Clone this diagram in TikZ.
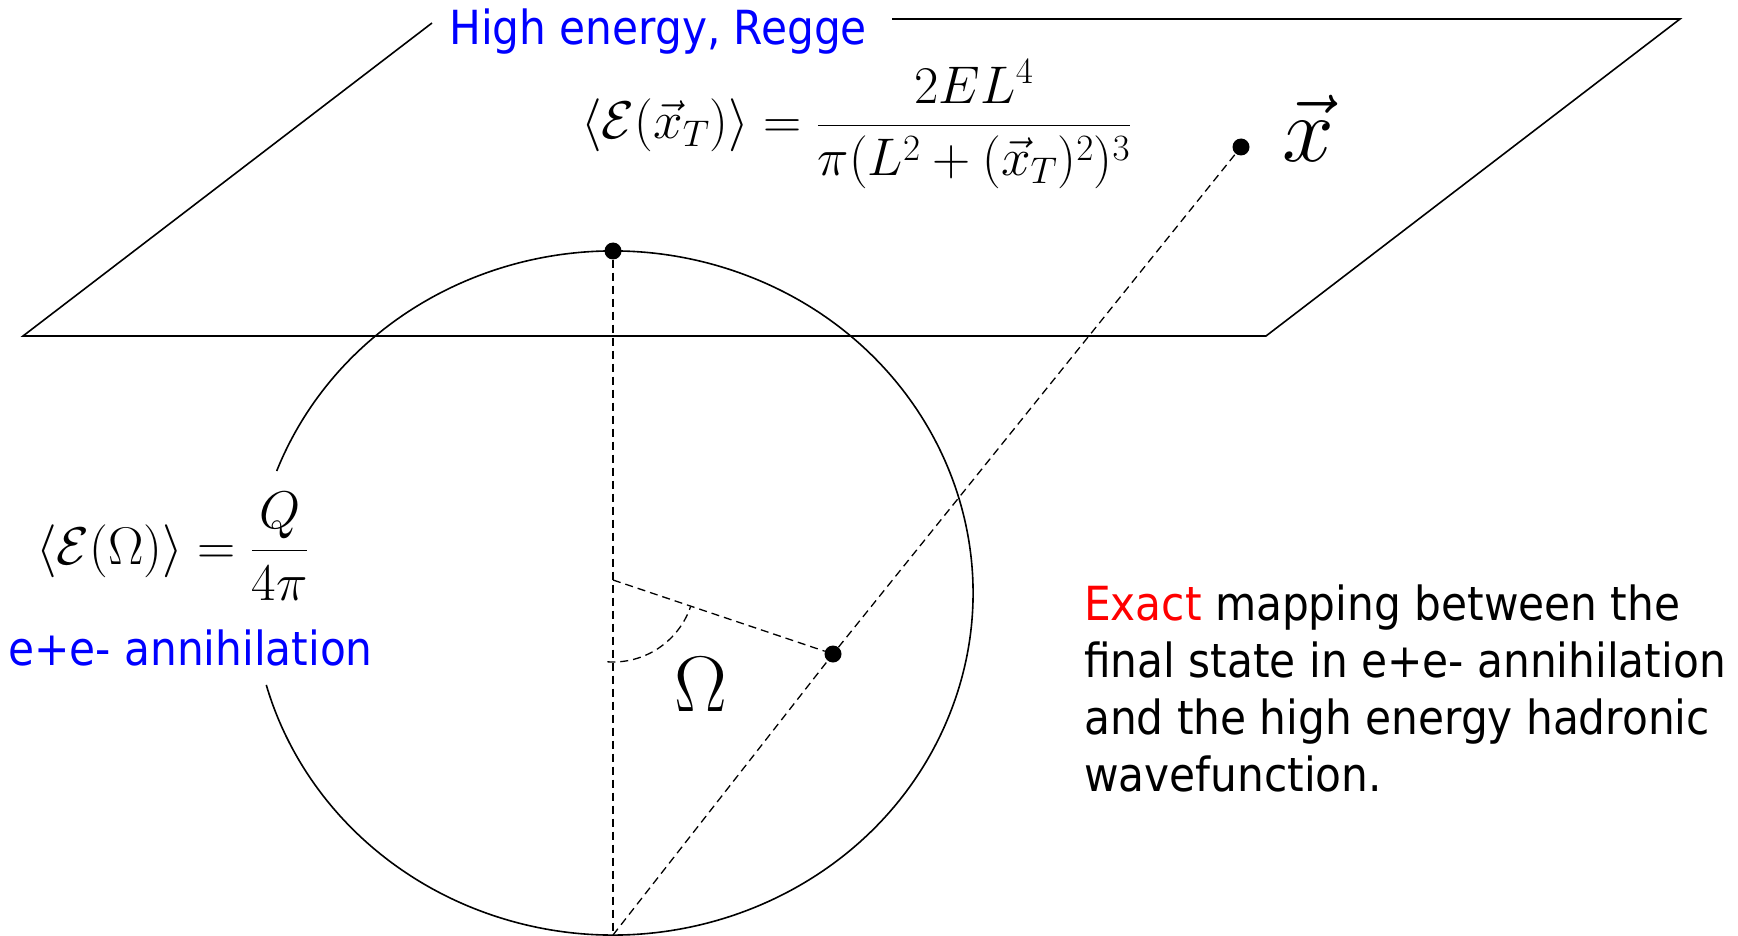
\RequirePackage{fix-cm}
\documentclass[tikz,border=0pt]{standalone}
\usepackage{amsmath}
\usepackage[no-math]{fontspec}
\setmainfont{DejaVu Sans Condensed}
\usepackage{xcolor}
\usetikzlibrary{calc}

\newcommand{\slidefont}{\fontsize{47}{57}\selectfont}
\newcommand{\eqfont}{\fontsize{53}{63}\selectfont}

\begin{document}
\begin{tikzpicture}[
  x=1pt, y=-1pt,
  edge/.style={line width=1.6pt},
  guide/.style={line width=1.3pt, dash pattern=on 8pt off 5pt},
  dot/.style={circle, fill=black, inner sep=0pt, minimum size=17pt},
  txt/.style={inner sep=0pt, font=\slidefont, anchor=base west},
  eq/.style={inner sep=0pt, font=\eqfont, anchor=base west}
]
\useasboundingbox (0,0) rectangle (1738,936);

% transverse plane
\coordinate (planeA) at (892,19);
\coordinate (planeB) at (1680,19);
\coordinate (planeC) at (1266,336);
\coordinate (planeD) at (23,336);
\coordinate (planeE) at (432,23);
\draw[edge] (planeA) -- (planeB) -- (planeC) -- (planeD) -- (planeE);

% celestial sphere, open where the labels sit
\draw[edge] (613,593) ++(200.9:360 and 342)
  arc[start angle=200.9, end angle=524.4, x radius=360, y radius=342];

\node[dot] (north) at (613,251) {};
\node[dot] (omega) at (833,654) {};
\node[dot] (xpt) at (1241,147) {};
\coordinate (origin) at (613,580);
\coordinate (south) at (613,935);

\draw[guide] (north) -- (south);
\draw[guide] (origin) -- (omega);
\draw[guide] (south) -- (omega) -- (xpt);
\draw[guide] (origin) ++(94:82) arc[start angle=94, end angle=19, radius=82];

% labels
\node[eq] (eqplane) at (581,139) {$\langle\mathcal{E}(\vec{x}_T)\rangle = \dfrac{2EL^4}{\pi(L^2+(\vec{x}_T)^2)^3}$};
\node[eq] (eqsphere) at (36,564) {$\langle\mathcal{E}(\Omega)\rangle = \dfrac{Q}{4\pi}$};
\node[txt, text=blue] (regge) at (449,45) {High energy, Regge};
\node[txt, text=blue] (ee) at (8,665) {e+e- annihilation};
\node[txt, align=left] (mapping) at (1084,791) {\textcolor{red}{Exact} mapping between the\\final state in e+e- annihilation\\and the high energy hadronic\\wavefunction.};
\node[inner sep=0pt, font=\fontsize{79}{90}\selectfont] (omegalbl) at (701,685) {$\Omega$};
\node[inner sep=0pt, anchor=base, font=\fontsize{93}{100}\selectfont] (xlbl) at (1308,162) {$\vec{x}$};
\end{tikzpicture}
\end{document}
